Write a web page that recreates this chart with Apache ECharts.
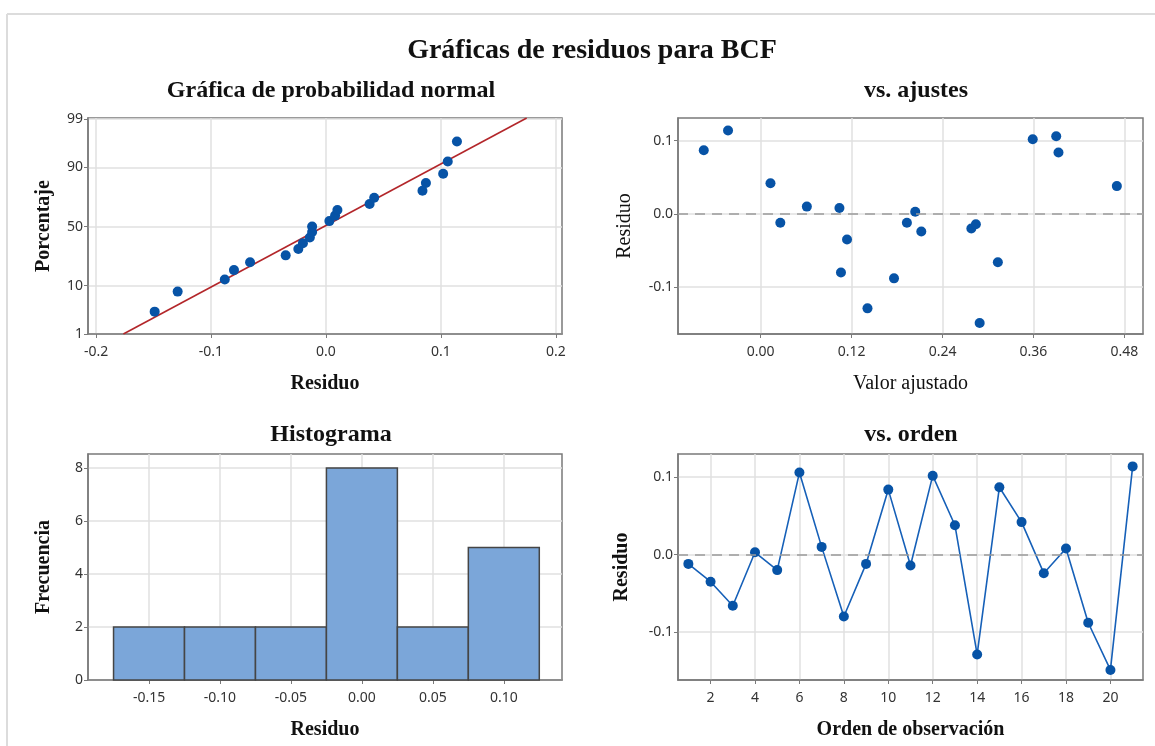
<!DOCTYPE html>
<html>
<head>
<meta charset="utf-8">
<script src="https://cdn.jsdelivr.net/npm/echarts@6/dist/echarts.min.js"></script>
<style>
html,body{margin:0;padding:0;background:#fff;}
#chart{width:1155px;height:746px;}
</style>
</head>
<body>
<div id="chart"></div>
<script>
// ---------- data ----------
const observationOrder = [1,2,3,4,5,6,7,8,9,10,11,12,13,14,15,16,17,18,19,20,21];
const residuals = [-0.012,-0.035,-0.066,0.003,-0.020,0.106,0.010,-0.080,-0.012,0.084,-0.014,0.102,0.038,-0.129,0.087,0.042,-0.024,0.008,-0.088,-0.149,0.114];
const fittedValues = [0.193,0.114,0.313,0.204,0.278,0.390,0.061,0.106,0.026,0.393,0.284,0.359,0.470,0.141,-0.075,0.013,0.212,0.104,0.176,0.289,-0.043];
const histBinCenters = [-0.15,-0.10,-0.05,0.00,0.05,0.10];
const histCounts = [2,2,2,8,2,5];

const probTickPercents = [1,10,50,90,99];
const probXTicks = [-0.2,-0.1,0.0,0.1,0.2];
const fitXTicks = [0.00,0.12,0.24,0.36,0.48];
const residTicks = [-0.1,0.0,0.1];
const histXTicks = [-0.15,-0.10,-0.05,0.00,0.05,0.10];
const histYTicks = [0,2,4,6,8];
const orderTicks = [2,4,6,8,10,12,14,16,18,20];

// ---------- helpers ----------
function qnorm(p){
  const a=[-3.969683028665376e+01,2.209460984245205e+02,-2.759285104469687e+02,1.383577518672690e+02,-3.066479806614716e+01,2.506628277459239e+00];
  const b=[-5.447609879822406e+01,1.615858368580409e+02,-1.556989798598866e+02,6.680131188771972e+01,-1.328068155288572e+01];
  const c=[-7.784894002430293e-03,-3.223964580411365e-01,-2.400758277161838e+00,-2.549732539343734e+00,4.374664141464968e+00,2.938163982698783e+00];
  const d=[7.784695709041462e-03,3.224671290700398e-01,2.445134137142996e+00,3.754408661907416e+00];
  const pl=0.02425, ph=1-pl; let q,r;
  if(p<pl){q=Math.sqrt(-2*Math.log(p));return (((((c[0]*q+c[1])*q+c[2])*q+c[3])*q+c[4])*q+c[5])/((((d[0]*q+d[1])*q+d[2])*q+d[3])*q+1);}
  if(p>ph){q=Math.sqrt(-2*Math.log(1-p));return -(((((c[0]*q+c[1])*q+c[2])*q+c[3])*q+c[4])*q+c[5])/((((d[0]*q+d[1])*q+d[2])*q+d[3])*q+1);}
  q=p-0.5;r=q*q;return (((((a[0]*r+a[1])*r+a[2])*r+a[3])*r+a[4])*r+a[5])*q/(((((b[0]*r+b[1])*r+b[2])*r+b[3])*r+b[4])*r+1);
}
const n = residuals.length;
const sorted = residuals.slice().sort((x,y)=>x-y);
const probPoints = sorted.map((v,i)=>[v, qnorm((i+1-0.3)/(n+0.4))]);
const mean = residuals.reduce((s,v)=>s+v,0)/n;
const sd = Math.sqrt(residuals.reduce((s,v)=>s+(v-mean)*(v-mean),0)/(n-1));
const zMin = qnorm(0.01), zMax = 2.35;
const fitLine = [[mean+zMin*sd, zMin],[mean+zMax*sd, zMax]];
const probTickZ = probTickPercents.map(p=>qnorm(p/100));
const binWidth = histBinCenters[1]-histBinCenters[0];

// ---------- styling ----------
const BLUE = '#0753a6';
const LINEBLUE = '#1660b8';
const GRIDC = '#e0e0e0';
const BOXC = '#7a7a7a';
const LABC = '#333333';
const SERIF = '"Liberation Serif","Times New Roman",serif';
const SANS = '"Noto Sans","Open Sans",sans-serif';

function mkAxis(gridIndex, opt, ticks, fmt, name, bold, nameGap, isY){
  return Object.assign({
    type:'value', gridIndex,
    name, nameLocation:'middle', nameGap,
    nameTextStyle:{fontFamily:SERIF, fontSize:20, fontWeight: bold?'bold':'normal', color:'#111'},
    axisLine:{show:true, onZero:false, lineStyle:{color:BOXC, width:1.5}},
    axisTick:{show:true, length:4, inside:false, customValues:ticks, lineStyle:{color:BOXC, width:1}},
    axisLabel:{customValues:ticks, formatter:fmt, fontFamily:SANS, fontSize:14, color:LABC, margin: isY?5:11},
    splitLine:{show:true, lineStyle:{color:GRIDC, width:1.5}}
  }, opt);
}

const grids = [
  {left:88, top:118, width:474, height:216},
  {left:678, top:118, width:465, height:216},
  {left:88, top:454, width:474, height:226},
  {left:678, top:454, width:465, height:226}
].map(g=>Object.assign({show:true, borderColor:BOXC, borderWidth:1.5, backgroundColor:'#fff'}, g));

const f1 = v=>v.toFixed(1), f2 = v=>v.toFixed(2), f0 = v=>String(Math.round(v));
const probFmt = v=>{ for(let i=0;i<probTickZ.length;i++){ if(Math.abs(probTickZ[i]-v)<1e-6) return String(probTickPercents[i]); } return ''; };

const option = {
  animation:false,
  backgroundColor:'#fff',
  title:[
    {text:'Gráficas de residuos para BCF', left:587, top:32, textAlign:'center', textStyle:{fontFamily:SERIF, fontSize:28, fontWeight:'bold', color:'#111'}},
    {text:'Gráfica de probabilidad normal', left:326, top:74, textAlign:'center', textStyle:{fontFamily:SERIF, fontSize:24, fontWeight:'bold', color:'#111'}},
    {text:'vs. ajustes', left:911, top:74, textAlign:'center', textStyle:{fontFamily:SERIF, fontSize:24, fontWeight:'bold', color:'#111'}},
    {text:'Histograma', left:326, top:418, textAlign:'center', textStyle:{fontFamily:SERIF, fontSize:24, fontWeight:'bold', color:'#111'}},
    {text:'vs. orden', left:906, top:418, textAlign:'center', textStyle:{fontFamily:SERIF, fontSize:24, fontWeight:'bold', color:'#111'}}
  ],
  graphic:[
    {type:'line', shape:{x1:7, y1:14, x2:1155, y2:14}, style:{stroke:'#dcdcdc', lineWidth:2}},
    {type:'line', shape:{x1:7, y1:14, x2:7, y2:746}, style:{stroke:'#dcdcdc', lineWidth:2}}
  ],
  grid: grids,
  xAxis:[
    mkAxis(0,{min:-0.207, max:0.2054}, probXTicks, f1, 'Residuo', true, 40, false),
    mkAxis(1,{min:-0.109, max:0.5045}, fitXTicks, f2, 'Valor ajustado', false, 40, false),
    mkAxis(2,{min:-0.193, max:0.141}, histXTicks, f2, 'Residuo', true, 40, false),
    mkAxis(3,{min:0.534, max:21.466}, orderTicks, f0, 'Orden de observación', true, 40, false)
  ],
  yAxis:[
    mkAxis(0,{min:zMin, max:zMax}, probTickZ, probFmt, 'Porcentaje', true, 34, true),
    mkAxis(1,{min:-0.164, max:0.131}, residTicks, f1, 'Residuo', false, 43, true),
    mkAxis(2,{min:0, max:8.53}, histYTicks, f0, 'Frecuencia', true, 34, true),
    mkAxis(3,{min:-0.162, max:0.130}, residTicks, f1, 'Residuo', true, 46, true)
  ],
  series:[
    {type:'line', xAxisIndex:0, yAxisIndex:0, data:fitLine, symbol:'none', clip:true,
     lineStyle:{color:'#b3262a', width:1.6}, z:3},
    {type:'scatter', xAxisIndex:0, yAxisIndex:0, data:probPoints, symbolSize:10,
     itemStyle:{color:BLUE, opacity:1}, z:4},
    {type:'scatter', xAxisIndex:1, yAxisIndex:1, data:fittedValues.map((f,i)=>[f, residuals[i]]), symbolSize:10,
     itemStyle:{color:BLUE, opacity:1}, z:4,
     markLine:{silent:true, symbol:'none', label:{show:false},
       lineStyle:{color:'#9a9a9a', type:[10,7], width:1.5}, data:[{yAxis:0}]}},
    {type:'custom', xAxisIndex:2, yAxisIndex:2,
     data: histBinCenters.map((c,i)=>[c, histCounts[i]]),
     renderItem:(params, api)=>{
       const c = api.value(0), h = api.value(1);
       const p0 = api.coord([c-binWidth/2, h]);
       const p1 = api.coord([c+binWidth/2, 0]);
       return {type:'rect', shape:{x:p0[0], y:p0[1], width:p1[0]-p0[0], height:p1[1]-p0[1]},
               style:{fill:'#7ba6d9', stroke:'#454545', lineWidth:1.5}};
     }, z:3},
    {type:'line', xAxisIndex:3, yAxisIndex:3, data:observationOrder.map((o,i)=>[o, residuals[i]]),
     symbol:'circle', symbolSize:10, showAllSymbol:true,
     lineStyle:{color:LINEBLUE, width:1.6}, itemStyle:{color:BLUE, opacity:1}, z:4,
     markLine:{silent:true, symbol:'none', label:{show:false},
       lineStyle:{color:'#9a9a9a', type:[10,7], width:1.5}, data:[{yAxis:0}]}}
  ]
};
const chart = echarts.init(document.getElementById('chart'), null, {renderer:'canvas'});
chart.setOption(option);
</script>
</body>
</html>
